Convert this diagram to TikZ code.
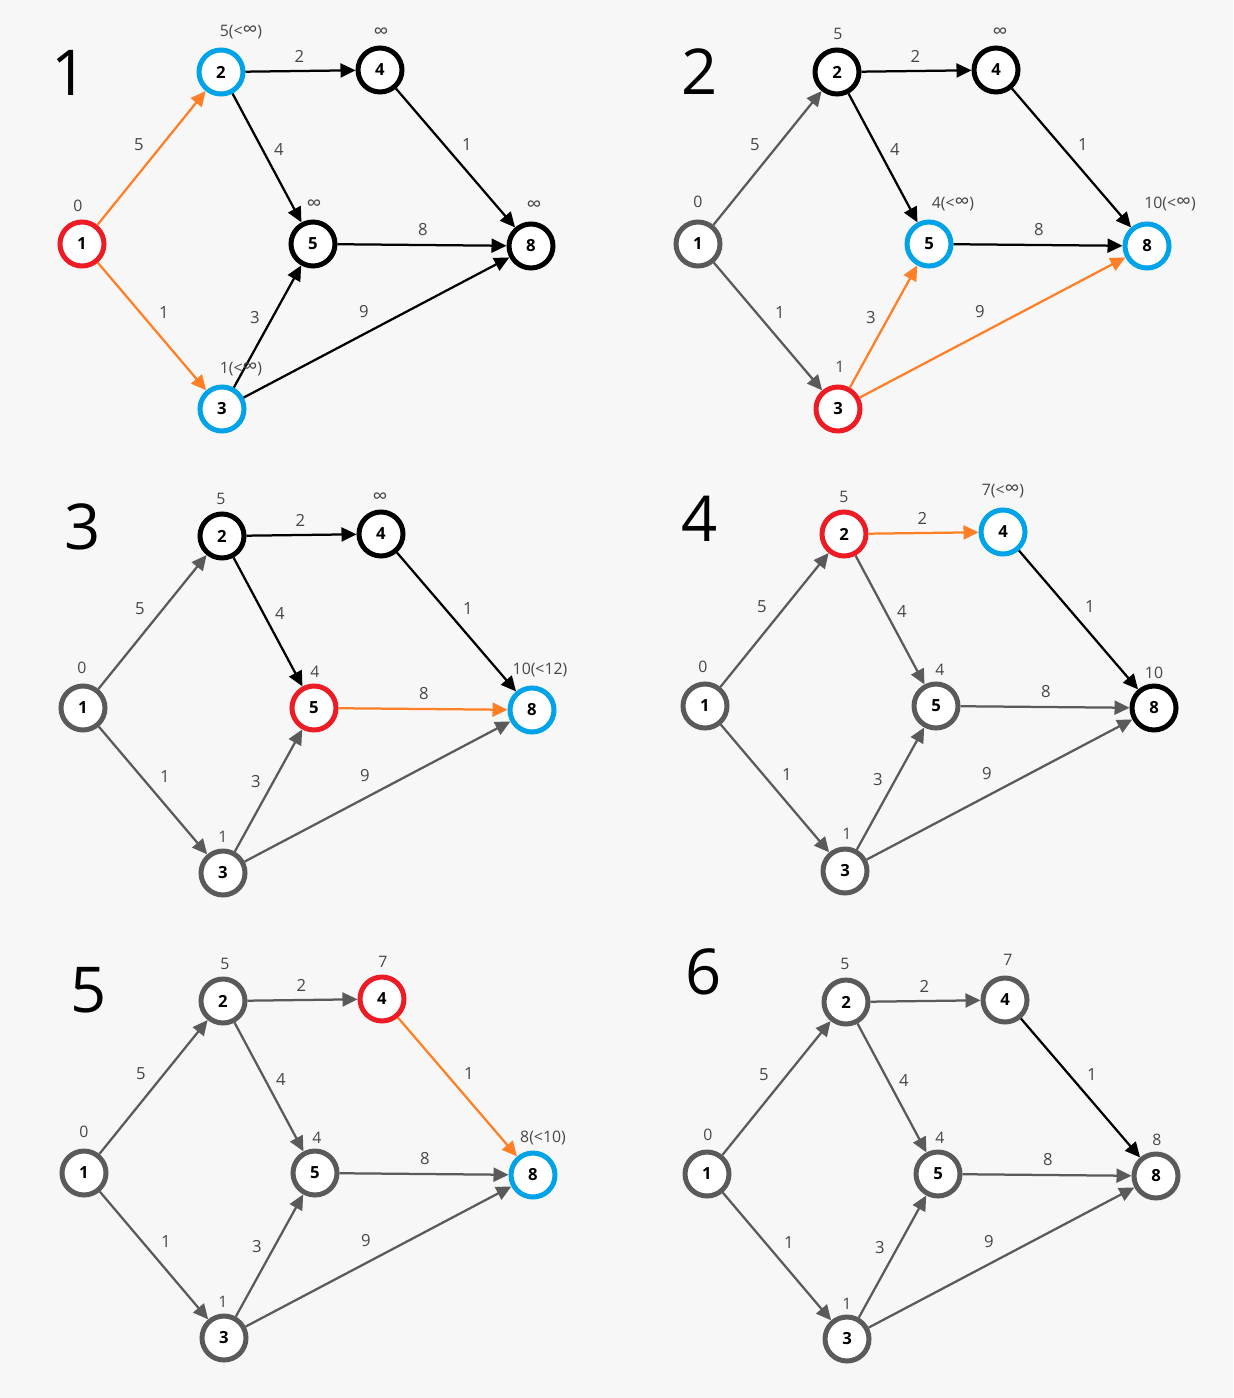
\documentclass[tikz,border=0pt]{standalone}
\usepackage{fontspec}
\setmainfont{Open Sans}
\usetikzlibrary{arrows.meta}
\definecolor{bg}{RGB}{247,247,247}
\definecolor{cred}{RGB}{237,28,36}
\definecolor{cblue}{RGB}{0,162,232}
\definecolor{corange}{RGB}{255,127,39}
\definecolor{cgray}{RGB}{90,90,90}
\definecolor{ctext}{RGB}{70,70,70}
\newcommand\myinf{{\fontsize{12}{12}\selectfont ∞}}
\tikzset{
 nd/.style={circle, draw=black, fill=white, line width=0.1cm, minimum size=0.88cm, inner sep=0pt, font=\fontsize{9.5}{10}\selectfont\bfseries},
 vred/.style={draw=cred}, vblue/.style={draw=cblue}, vgray/.style={draw=cgray}, vblack/.style={draw=black},
 ed/.style={line width=0.045cm, -{Triangle[length=0.3cm,width=0.28cm]}},
 eor/.style={draw=corange}, ebk/.style={draw=black}, egr/.style={draw=cgray},
 dl/.style={text=ctext, font=\fontsize{9}{9}\selectfont, inner sep=0pt},
 el/.style={text=ctext, font=\fontsize{9.5}{10}\selectfont, inner sep=0pt},
 num/.style={font=\fontsize{36}{36}\selectfont, inner sep=0pt}
}
\newcommand\graphpanel[3]{%
\begin{scope}[shift={(#2,#3)}]
 \node[nd,sA] (#1a) at (0,0) {1};
 \node[nd,sB] (#1b) at (139,-172) {2};
 \node[nd,sD] (#1d) at (298,-174) {4};
 \node[nd,sE] (#1e) at (231,0) {5};
 \node[nd,sH] (#1h) at (449,2) {8};
 \node[nd,sC] (#1c) at (140,165) {3};
 \draw[ed,eAB] (#1a) -- node[el,shift={(-12.5,-13)}] {5} (#1b);
 \draw[ed,eAC] (#1a) -- node[el,shift={(12,-13.5)}] {1} (#1c);
 \draw[ed,eBD] (#1b) -- node[el,shift={(-1,-15)}] {2} (#1d);
 \draw[ed,eBE] (#1b) -- node[el,shift={(12,-8)}] {4} (#1e);
 \draw[ed,eDH] (#1d) -- node[el,shift={(11.5,-13)}] {1} (#1h);
 \draw[ed,eEH] (#1e) -- node[el,shift={(1,-15)}] {8} (#1h);
 \draw[ed,eCE] (#1c) -- node[el,shift={(-12.5,-8.5)}] {3} (#1e);
 \draw[ed,eCH] (#1c) -- node[el,shift={(-12.5,-15.5)}] {9} (#1h);
\end{scope}}
\begin{document}
\begin{tikzpicture}[x=0.02cm,y=-0.02cm]
\fill[bg] (0,0) rectangle (1233,1398);
\useasboundingbox (0,0) rectangle (1233,1398);
% panel 1
\tikzset{sA/.style=vred,sB/.style=vblue,sC/.style=vblue,sD/.style=vblack,sE/.style=vblack,sH/.style=vblack,
 eAB/.style=eor,eAC/.style=eor,eBD/.style=ebk,eBE/.style=ebk,eDH/.style=ebk,eEH/.style=ebk,eCE/.style=ebk,eCH/.style=ebk}
\graphpanel{p}{82}{244}
\node[num] (n1) at (70,73) {1};
\node[dl] (pl1) at (78,206) {0};
\node[dl] (pl2) at (241,32) {5(<\myinf)};
\node[dl] (pl4) at (381,33) {\myinf};
\node[dl] (pl5) at (314,205) {\myinf};
\node[dl] (pl8) at (534,206) {\myinf};
\node[dl] (pl3) at (241,369) {1(<\myinf)};
% panel 2
\tikzset{sA/.style=vgray,sB/.style=vblack,sC/.style=vred,sD/.style=vblack,sE/.style=vblue,sH/.style=vblue,
 eAB/.style=egr,eAC/.style=egr,eBD/.style=ebk,eBE/.style=ebk,eDH/.style=ebk,eEH/.style=ebk,eCE/.style=eor,eCH/.style=eor}
\graphpanel{q}{698}{244}
\node[num] (n2) at (700,72) {2};
\node[dl] (ql1) at (698,202) {0};
\node[dl] (ql2) at (838,34) {5};
\node[dl] (ql4) at (1000,33) {\myinf};
\node[dl] (ql5) at (953,204) {4(<\myinf)};
\node[dl] (ql8) at (1170,204) {10(<\myinf)};
\node[dl] (ql3) at (840,367) {1};
% panel 3
\tikzset{sA/.style=vgray,sB/.style=vblack,sC/.style=vgray,sD/.style=vblack,sE/.style=vred,sH/.style=vblue,
 eAB/.style=egr,eAC/.style=egr,eBD/.style=ebk,eBE/.style=ebk,eDH/.style=ebk,eEH/.style=eor,eCE/.style=egr,eCH/.style=egr}
\graphpanel{r}{83}{708}
\node[num] (n3) at (83,527) {3};
\node[dl] (rl1) at (82,668) {0};
\node[dl] (rl2) at (221,499) {5};
\node[dl] (rl4) at (380,498) {\myinf};
\node[dl] (rl5) at (315,672) {4};
\node[dl] (rl8) at (540,670) {10(<12)};
\node[dl] (rl3) at (223,837) {1};
% panel 4
\tikzset{sA/.style=vgray,sB/.style=vred,sC/.style=vgray,sD/.style=vblue,sE/.style=vgray,sH/.style=vblack,
 eAB/.style=egr,eAC/.style=egr,eBD/.style=eor,eBE/.style=egr,eDH/.style=ebk,eEH/.style=egr,eCE/.style=egr,eCH/.style=egr}
\graphpanel{s}{705}{706}
\node[num] (n4) at (700,519) {4};
\node[dl] (sl1) at (703,667) {0};
\node[dl] (sl2) at (844,497) {5};
\node[dl] (sl4) at (1003,491) {7(<\myinf)};
\node[dl] (sl5) at (940,670) {4};
\node[dl] (sl8) at (1154,673) {10};
\node[dl] (sl3) at (847,834) {1};
% panel 5
\tikzset{sA/.style=vgray,sB/.style=vgray,sC/.style=vgray,sD/.style=vred,sE/.style=vgray,sH/.style=vblue,
 eAB/.style=egr,eAC/.style=egr,eBD/.style=egr,eBE/.style=egr,eDH/.style=eor,eEH/.style=egr,eCE/.style=egr,eCH/.style=egr}
\graphpanel{t}{84}{1173}
\node[num] (n5) at (89,990) {5};
\node[dl] (tl1) at (84,1132) {0};
\node[dl] (tl2) at (225,964) {5};
\node[dl] (tl4) at (383,962) {7};
\node[dl] (tl5) at (317,1138) {4};
\node[dl] (tl8) at (543,1138) {8(<10)};
\node[dl] (tl3) at (223,1302) {1};
% panel 6
\tikzset{sA/.style=vgray,sB/.style=vgray,sC/.style=vgray,sD/.style=vgray,sE/.style=vgray,sH/.style=vgray,
 eAB/.style=egr,eAC/.style=egr,eBD/.style=egr,eBE/.style=egr,eDH/.style=ebk,eEH/.style=egr,eCE/.style=egr,eCH/.style=egr}
\graphpanel{u}{707}{1174}
\node[num] (n6) at (704,972) {6};
\node[dl] (ul1) at (708,1135) {0};
\node[dl] (ul2) at (845,964) {5};
\node[dl] (ul4) at (1008,960) {7};
\node[dl] (ul5) at (940,1138) {4};
\node[dl] (ul8) at (1157,1140) {8};
\node[dl] (ul3) at (847,1304) {1};
\end{tikzpicture}
\end{document}
